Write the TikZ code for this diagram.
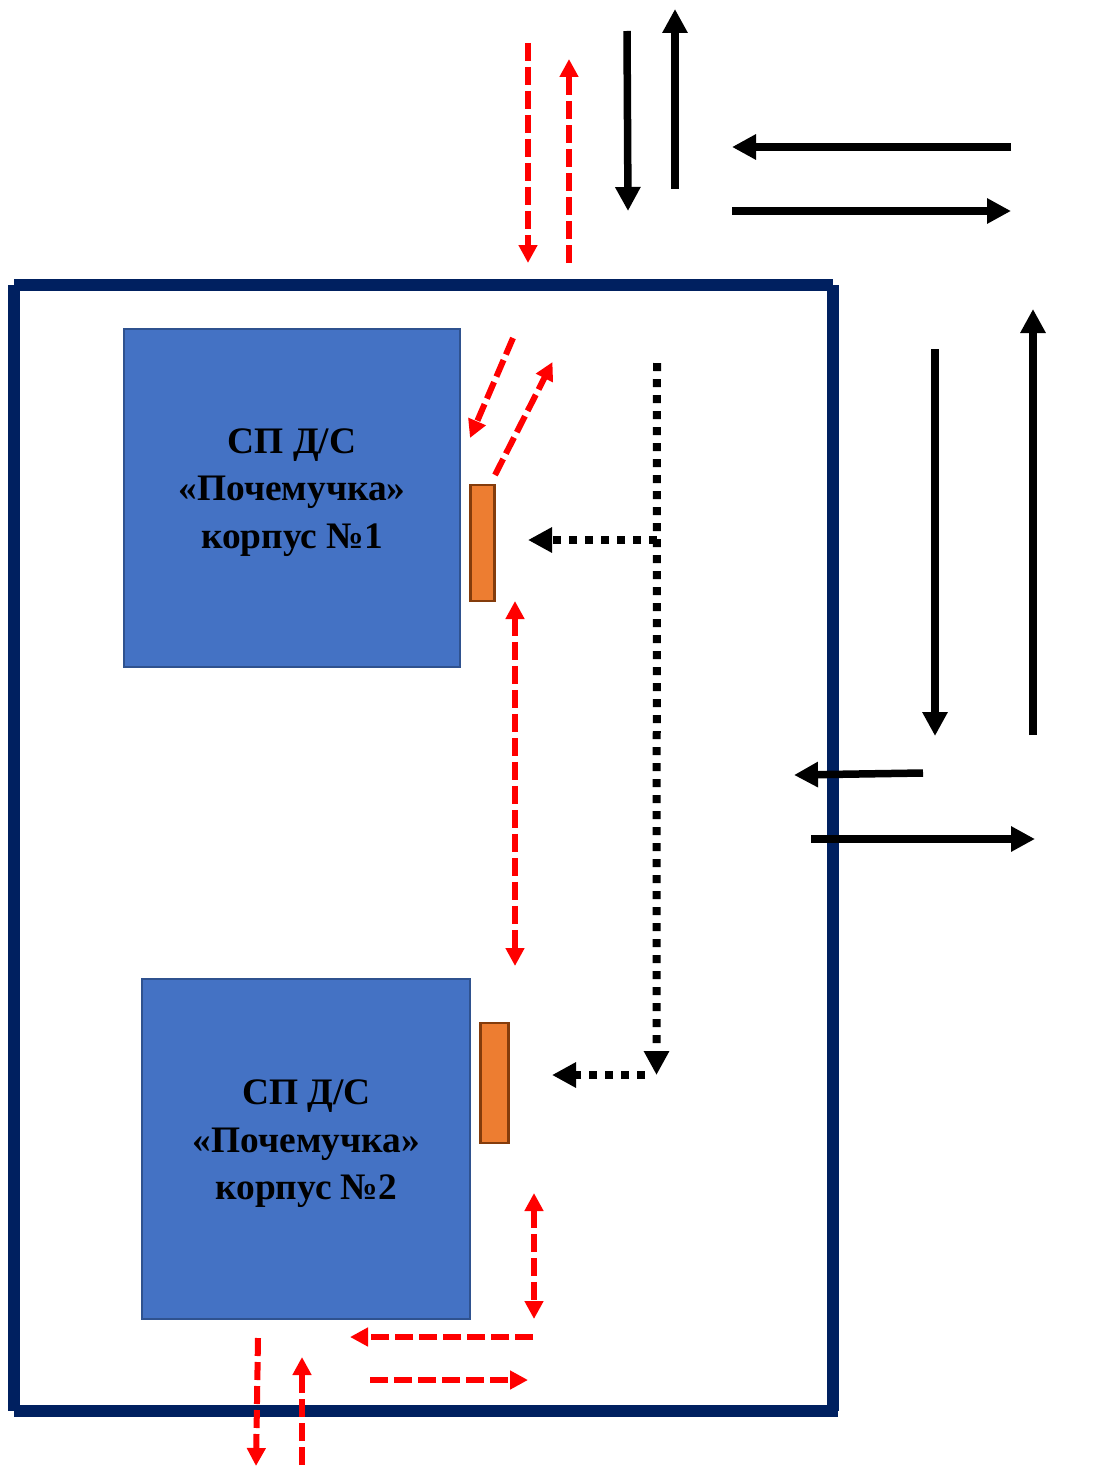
\documentclass[tikz,border=0pt]{standalone}
\usepackage{fontspec}
\setmainfont{Liberation Serif}
\usetikzlibrary{arrows.meta}
\definecolor{navy}{HTML}{002060}
\definecolor{bluefill}{HTML}{4472C4}
\definecolor{blueedge}{HTML}{2F528F}
\definecolor{orangefill}{HTML}{ED7D31}
\definecolor{orangeedge}{HTML}{843C0C}
\tikzset{
  x=1pt,y=-1pt,
  frameline/.style={draw=navy,line width=12pt},
  building/.style={draw=blueedge,fill=bluefill,line width=2pt,inner sep=0pt,rectangle},
  gate/.style={draw=orangeedge,fill=orangefill,line width=2.2pt,inner sep=0pt,rectangle},
  caption/.style={align=center,inner sep=0pt,font=\fontsize{37.4}{47.4}\selectfont\bfseries,text=black},
  redway/.style={draw=red,line width=6pt,dash pattern=on 18pt off 6pt,-{Triangle[length=18pt,width=18pt]}},
  redboth/.style={draw=red,line width=6pt,dash pattern=on 18pt off 6pt,{Triangle[length=18pt,width=18pt]}-{Triangle[length=18pt,width=18pt]}},
  carway/.style={draw=black,line width=7.5pt,-{Triangle[length=24pt,width=24pt]}},
  dotway/.style={draw=black,line width=8pt,dash pattern=on 8pt off 8pt,-{Triangle[length=24pt,width=24pt]}},
}
\begin{document}
\begin{tikzpicture}
\useasboundingbox (0,0) rectangle (1102,1466);
% outer frame
\coordinate (tl) at (14,285);
\coordinate (tr) at (832.5,285);
\coordinate (bl) at (14,1411);
\coordinate (br) at (832.5,1411);
\coordinate (brx) at (838,1411);
\draw[frameline] (tl) -- (tr);
\draw[frameline] (tl) -- (bl);
\draw[frameline] (tr) -- (br);
\draw[frameline] (bl) -- (brx);
% buildings
\node[building,minimum width=336pt,minimum height=338pt] (b1) at (292,497.5) {};
\node[caption] (t1) at (292,492.5) {СП Д/С\\«Почемучка»\\корпус №1};
\node[building,minimum width=328pt,minimum height=340pt] (b2) at (306,1149) {};
\node[caption] (t2) at (306.3,1143.8) {СП Д/С\\«Почемучка»\\корпус №2};
\node[gate,minimum width=24pt,minimum height=116pt] (g1) at (482.5,543) {};
\node[gate,minimum width=28pt,minimum height=120pt] (g2) at (494.5,1083) {};
% red pedestrian arrows
\coordinate (r1a) at (528,43);   \coordinate (r1b) at (528,263);
\coordinate (r2a) at (569,263);  \coordinate (r2b) at (569,59);
\coordinate (r3a) at (513,338);  \coordinate (r3b) at (470,438);
\coordinate (r4a) at (495,475);  \coordinate (r4b) at (552.5,362);
\coordinate (r5a) at (515,601);  \coordinate (r5b) at (515,966);
\coordinate (r6a) at (534,1193); \coordinate (r6b) at (534,1319);
\coordinate (r7a) at (533,1337); \coordinate (r7b) at (350,1337);
\coordinate (r8a) at (370,1380); \coordinate (r8b) at (528,1380);
\coordinate (r9a) at (258,1338); \coordinate (r9b) at (256,1466);
\coordinate (r10a) at (302,1465);\coordinate (r10b) at (302,1357);
\draw[redway] (r1a) -- (r1b);
\draw[redway] (r2a) -- (r2b);
\draw[redway] (r3a) -- (r3b);
\draw[redway] (r4a) -- (r4b);
\draw[redboth] (r5a) -- (r5b);
\draw[redboth] (r6a) -- (r6b);
\draw[redway] (r7a) -- (r7b);
\draw[redway] (r8a) -- (r8b);
\draw[redway] (r9a) -- (r9b);
\draw[redway] (r10a) -- (r10b);
% black vehicle arrows
\coordinate (c1a) at (627,31);   \coordinate (c1b) at (628,211);
\coordinate (c2a) at (675,189);  \coordinate (c2b) at (675,9);
\coordinate (c3a) at (1011,147); \coordinate (c3b) at (732,147);
\coordinate (c4a) at (732,211);  \coordinate (c4b) at (1011,211);
\coordinate (c5a) at (935,349);  \coordinate (c5b) at (935,736);
\coordinate (c6a) at (1033,735); \coordinate (c6b) at (1033,309);
\coordinate (c7a) at (923,773);  \coordinate (c7b) at (794,775);
\coordinate (c8a) at (811,839);  \coordinate (c8b) at (1035,839);
\foreach \p in {1,...,8} {\draw[carway] (c\p a) -- (c\p b);}
% dotted arrows
\coordinate (d1a) at (657,363);  \coordinate (d1b) at (656.5,1075);
\coordinate (d2a) at (657,540);  \coordinate (d2b) at (528,540);
\coordinate (d3a) at (645,1075); \coordinate (d3b) at (552,1075);
\draw[dotway] (d1a) -- (d1b);
\draw[dotway] (d2a) -- (d2b);
\draw[dotway] (d3a) -- (d3b);
\end{tikzpicture}
\end{document}
